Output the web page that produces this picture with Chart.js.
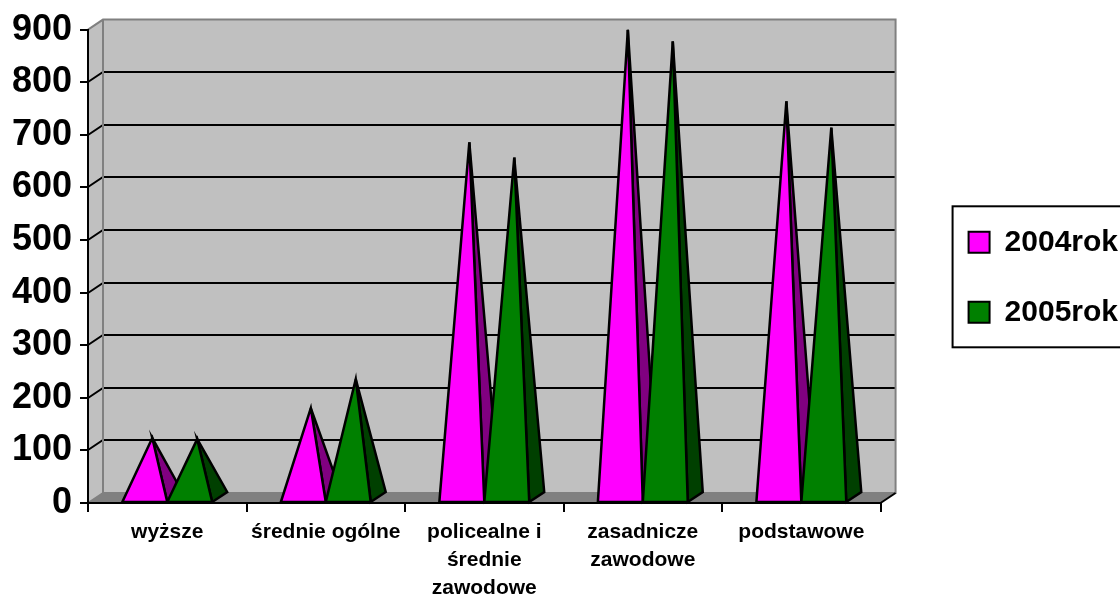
<!DOCTYPE html>
<html>
<head>
<meta charset="utf-8">
<script src="https://cdn.jsdelivr.net/npm/chart.js@4"></script>
<style>
  html, body { margin: 0; padding: 0; background: #fff; overflow: hidden; }
  #wrap { width: 1120px; height: 596px; position: relative; }
</style>
</head>
<body>
<div id="wrap"><canvas id="pyramidChart"></canvas></div>
<script>
// data
const categories = ['wyższe', 'średnie ogólne', ['policealne i', 'średnie', 'zawodowe'], ['zasadnicze', 'zawodowe'], 'podstawowe'];
const seriesNames = ['2004rok', '2005rok'];
const values2004 = [114, 171, 676, 890, 754];
const values2005 = [112, 226, 647, 868, 704];
const yTicks = [0, 100, 200, 300, 400, 500, 600, 700, 800, 900];

const FONT = "'Liberation Sans', Arial, sans-serif";
const DX = 15, DY = 10; // depth offset of the 3d box

// walls, floor and gridlines behind everything
const wallsPlugin = {
    id: 'walls',
    beforeDraw(chart) {
        const { ctx, chartArea: { left, right, top, bottom } } = chart;
        const y = chart.scales.y;
        ctx.save();
        // back wall
        ctx.fillStyle = '#c0c0c0';
        ctx.fillRect(left + DX, top - DY, right - left, bottom - top);
        // left wall
        ctx.beginPath();
        ctx.moveTo(left, bottom);
        ctx.lineTo(left + DX, bottom - DY);
        ctx.lineTo(left + DX, top - DY);
        ctx.lineTo(left, top);
        ctx.closePath();
        ctx.fill();
        // floor
        ctx.fillStyle = '#808080';
        ctx.beginPath();
        ctx.moveTo(left, bottom);
        ctx.lineTo(right, bottom);
        ctx.lineTo(right + DX, bottom - DY);
        ctx.lineTo(left + DX, bottom - DY);
        ctx.closePath();
        ctx.fill();

        // gridlines
        ctx.strokeStyle = '#000';
        ctx.lineWidth = 2;
        yTicks.forEach(v => {
            if (v <= y.min || v >= y.max) return;
            const py = Math.round(y.getPixelForValue(v));
            ctx.beginPath();
            ctx.moveTo(left, py);
            ctx.lineTo(left + DX, py - DY);
            ctx.lineTo(right + DX, py - DY);
            ctx.stroke();
        });

        // wall edges
        ctx.strokeStyle = '#808080';
        ctx.lineWidth = 2;
        ctx.beginPath();
        ctx.moveTo(left, top);
        ctx.lineTo(left + DX, top - DY);
        ctx.lineTo(right + DX, top - DY);
        ctx.lineTo(right + DX, bottom - DY);
        ctx.lineTo(left + DX, bottom - DY);
        ctx.lineTo(left + DX, top - DY);
        ctx.moveTo(left, bottom);
        ctx.lineTo(left + DX, bottom - DY);
        ctx.stroke();
        ctx.strokeStyle = '#000';
        ctx.beginPath();
        ctx.moveTo(right, bottom);
        ctx.lineTo(right + DX, bottom - DY);
        ctx.stroke();
        ctx.restore();
    },
    // pyramids instead of bars
    beforeDatasetsDraw(chart) {
        const { ctx } = chart;
        ctx.save();
        ctx.lineWidth = 2.5;
        ctx.strokeStyle = '#000';
        ctx.lineJoin = 'miter';
        chart.data.datasets.forEach((ds, di) => {
            const meta = chart.getDatasetMeta(di);
            meta.data.forEach(bar => {
                const { x, y, base, width } = bar.getProps(['x', 'y', 'base', 'width'], true);
                const x0 = x - width / 2, x1 = x + width / 2;
                const ax = x + DX / 2, ay = y - DY / 2;
                // right side face
                ctx.fillStyle = ds.sideColor;
                ctx.beginPath();
                ctx.moveTo(x1, base);
                ctx.lineTo(x1 + DX, base - DY);
                ctx.lineTo(ax, ay);
                ctx.closePath();
                ctx.fill();
                ctx.stroke();
                // front face
                ctx.fillStyle = ds.backgroundColor;
                ctx.beginPath();
                ctx.moveTo(x0, base);
                ctx.lineTo(x1, base);
                ctx.lineTo(ax, ay);
                ctx.closePath();
                ctx.fill();
                ctx.stroke();
            });
        });
        ctx.restore();
        return false;
    },
    // frame around the legend
    afterDraw(chart) {
        const lg = chart.legend;
        if (!lg || !lg.legendHitBoxes || lg.legendHitBoxes.length < 2) return;
        const h0 = lg.legendHitBoxes[0], h1 = lg.legendHitBoxes[1];
        const { ctx } = chart;
        const bx = h0.left - 16;
        const by = h0.top - 21;
        const bb = h1.top + h1.height + 20;
        ctx.save();
        ctx.strokeStyle = '#000';
        ctx.lineWidth = 2;
        ctx.strokeRect(bx, by, 1200 - bx, bb - by);
        ctx.restore();
    }
};

function initChart() {
    const ctx = document.getElementById('pyramidChart');

    new Chart(ctx, {
        type: 'bar',
        data: {
            labels: categories,
            datasets: [
                {
                    label: seriesNames[0],
                    data: values2004,
                    backgroundColor: '#ff00ff',
                    sideColor: '#800080',
                    borderColor: '#000',
                    borderWidth: 2,
                    categoryPercentage: 0.567,
                    barPercentage: 1.0,
                },
                {
                    label: seriesNames[1],
                    data: values2005,
                    backgroundColor: '#008000',
                    sideColor: '#004000',
                    borderColor: '#000',
                    borderWidth: 2,
                    categoryPercentage: 0.567,
                    barPercentage: 1.0,
                }
            ]
        },
        options: {
            responsive: true,
            maintainAspectRatio: false,
            animation: false,
            layout: { padding: { top: 29, right: -8, left: 0, bottom: 0 } },
            plugins: {
                tooltip: { enabled: false },
                legend: {
                    position: 'right',
                    fullSize: false,
                    maxWidth: 240,
                    title: { display: true, text: ' ', padding: 5, font: { size: 10 } },
                    labels: {
                        boxWidth: 21,
                        boxHeight: 21,
                        padding: 40,
                        color: '#000',
                        font: { family: FONT, size: 30, weight: 'bold' }
                    }
                }
            },
            scales: {
                x: {
                    grid: { drawOnChartArea: false, color: '#000', lineWidth: 2, tickLength: 9 },
                    border: { color: '#000', width: 2 },
                    ticks: {
                        color: '#000',
                        padding: 6,
                        maxRotation: 0,
                        autoSkip: false,
                        font: { family: FONT, size: 21, weight: 'bold', lineHeight: 1.333 }
                    },
                    afterFit(scale) { scale.height = 93; }
                },
                y: {
                    min: 0,
                    max: 900,
                    grid: { drawOnChartArea: false, color: '#000', lineWidth: 2, tickLength: 8 },
                    border: { color: '#000', width: 2 },
                    ticks: {
                        stepSize: 100,
                        color: '#000',
                        padding: 8,
                        font: { family: FONT, size: 36, weight: 'bold' }
                    },
                    afterFit(scale) { scale.width = 88; }
                },
                yR: {
                    type: 'linear',
                    position: 'right',
                    grid: { display: false },
                    border: { display: false },
                    ticks: { display: false },
                    afterFit(scale) { scale.width = 48; }
                }
            }
        },
        plugins: [wallsPlugin]
    });
}

document.addEventListener('DOMContentLoaded', initChart);
</script>
</body>
</html>
